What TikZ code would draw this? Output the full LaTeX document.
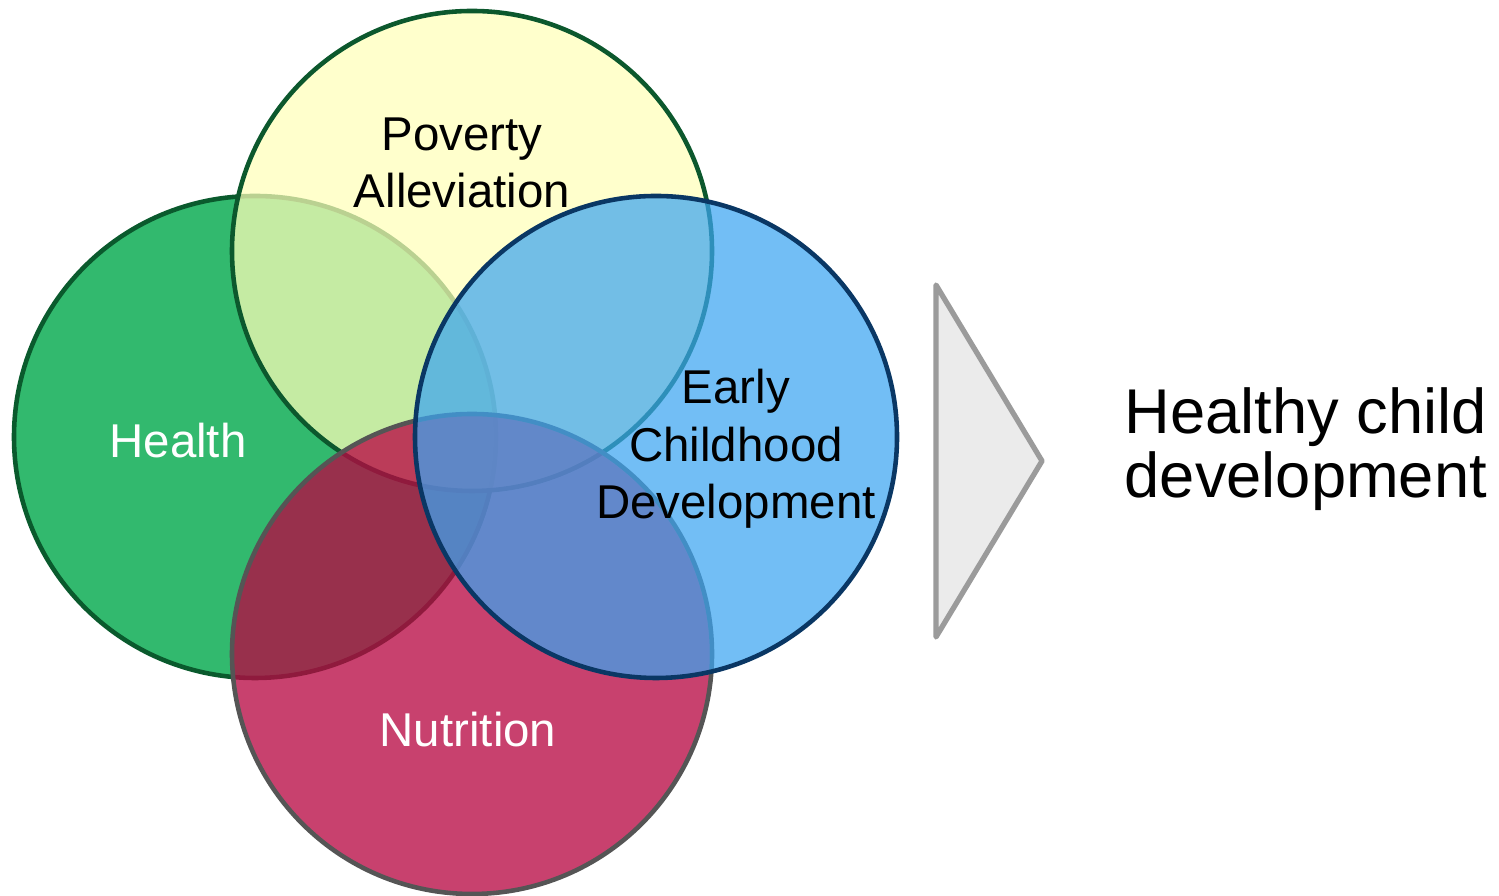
\documentclass[tikz,border=0pt]{standalone}
\usepackage{fontspec}
\setmainfont{Liberation Sans}
\definecolor{hfill}{RGB}{50,185,110}
\definecolor{hline}{RGB}{10,90,45}
\definecolor{pfill}{RGB}{255,255,184}
\definecolor{pline}{RGB}{12,88,45}
\definecolor{nfill}{RGB}{184,8,67}
\definecolor{nline}{RGB}{85,85,85}
\definecolor{efill}{RGB}{60,165,241}
\definecolor{eline}{RGB}{10,55,100}
\definecolor{tfill}{RGB}{235,235,235}
\definecolor{tline}{RGB}{155,155,155}
\tikzset{
  venn/.style={line width=1.3pt},
  lbl/.style={font=\fontsize{13.5}{16.4}\selectfont, align=center, inner sep=0pt},
  big/.style={font=\fontsize{18}{18.2}\selectfont, align=left, inner sep=0pt, anchor=west},
}
\begin{document}
\begin{tikzpicture}
\useasboundingbox (0,0) rectangle (14.99,8.96);
\coordinate (hc) at (2.55,4.59);
\coordinate (pc) at (4.72,6.45);
\coordinate (ec) at (6.56,4.59);
\coordinate (nc) at (4.72,2.42);
\draw[venn, draw=hline, fill=hfill, fill opacity=1] (hc) circle (2.41);
\draw[venn, draw=pline, fill=pfill, fill opacity=0.72] (pc) circle (2.40);
\draw[venn, draw=nline, fill=nfill, fill opacity=0.77] (nc) circle (2.40);
\draw[venn, draw=eline, fill=efill, fill opacity=0.72] (ec) circle (2.41);
\coordinate (t1) at (9.36,6.11);
\coordinate (t2) at (10.42,4.35);
\coordinate (t3) at (9.36,2.59);
\draw[line width=1.5pt, draw=tline, fill=tfill, line join=round] (t1) -- (t2) -- (t3) -- cycle;
\node[lbl] (pov) at (4.62,7.33) {Poverty\\Alleviation};
\node[lbl, text=white] (hea) at (1.78,4.55) {Health};
\node[lbl] (ecd) at (7.36,4.47) {Early\\Childhood\\Development};
\node[lbl, text=white] (nut) at (4.68,1.66) {Nutrition};
\node[big] (hcd) at (11.24,4.47) {Healthy child\\development};
\end{tikzpicture}
\end{document}
